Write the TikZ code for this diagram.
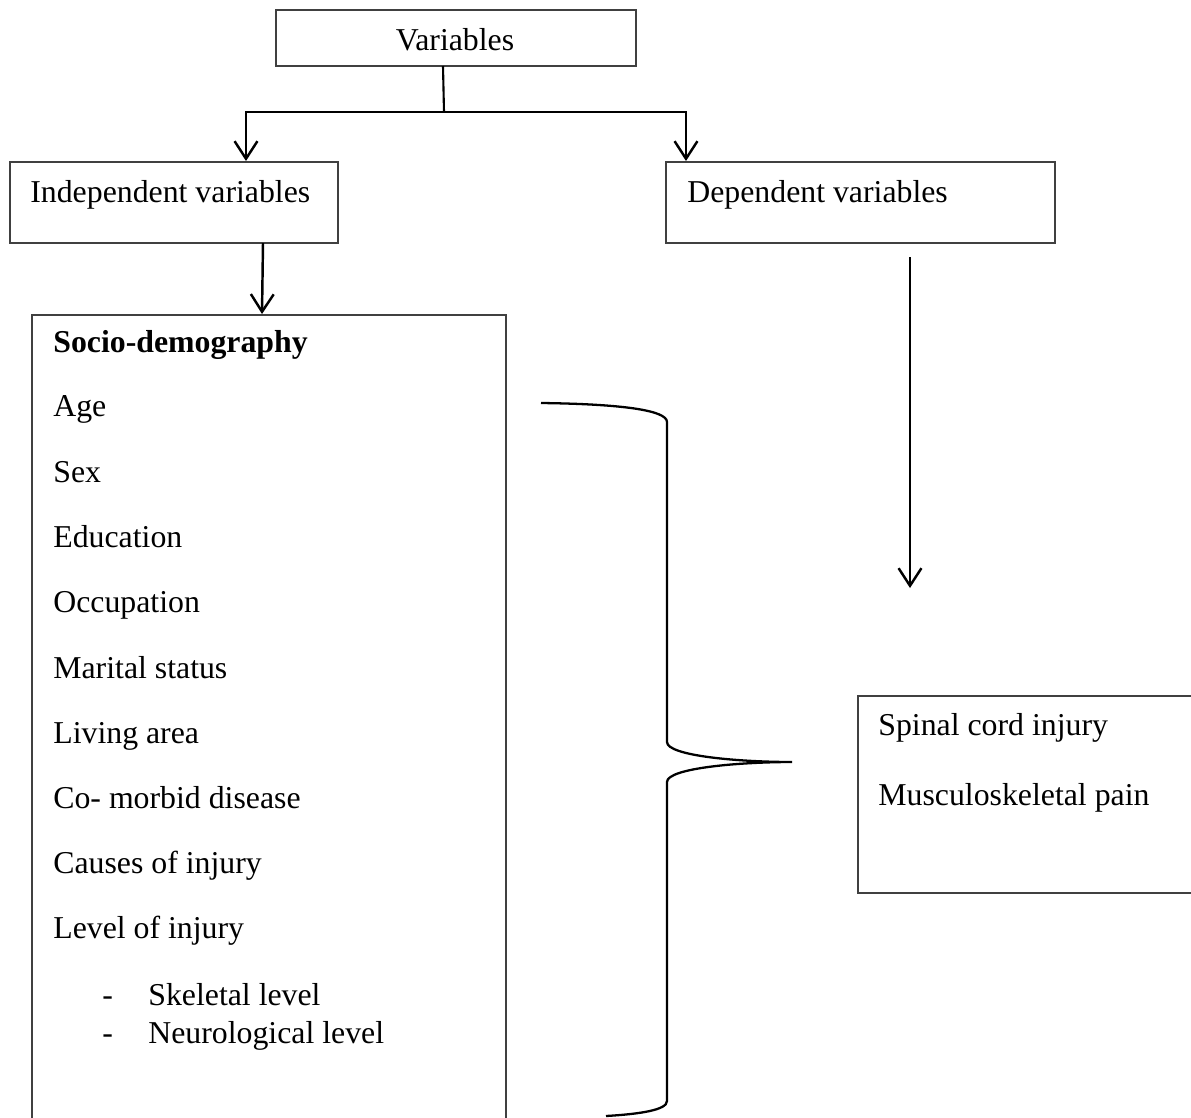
\documentclass[tikz,border=0pt]{standalone}
\usepackage{fontspec}
\setmainfont{Liberation Serif}
\usetikzlibrary{arrows.meta}
\begin{document}
\begin{tikzpicture}[x=0.02cm,y=-0.02cm,
  boxline/.style={draw=black!75,line width=1.1pt},
  conn/.style={draw=black,line width=1.4pt},
  arr/.style={conn,-{Straight Barb[length=10pt,width=13pt,line width=1.4pt]}},
  lbl/.style={inner sep=0pt,anchor=base west,font=\fontsize{18.1}{21}\selectfont},
  bracel/.style={draw=black,line width=1.3pt}]
\useasboundingbox (0,0) rectangle (1191,1117);
% boxes
\draw[boxline] (276,10) rectangle (636,66);
\coordinate (varsS) at (443,66);
\draw[boxline] (10,162) rectangle (338,243);
\draw[boxline] (666,162) rectangle (1055,243);
\draw[boxline] (32,1130) -- (32,315) -- (506,315) -- (506,1130);
\draw[boxline] (1200,696) -- (858,696) -- (858,893) -- (1200,893);
% texts
\node[lbl,anchor=base] (vars) at (455,50) {Variables};
\node[lbl] (indep) at (30,202) {Independent variables};
\node[lbl] (dep) at (687,202) {Dependent variables};
\node[lbl] (socio) at (53,352) {\bfseries Socio-demography};
\node[lbl] (age) at (53,416) {Age};
\node[lbl] (sex) at (53,482) {Sex};
\node[lbl] (edu) at (53,547) {Education};
\node[lbl] (occ) at (53,612) {Occupation};
\node[lbl] (mar) at (53,678) {Marital status};
\node[lbl] (liv) at (53,743) {Living area};
\node[lbl] (com) at (53,808) {Co- morbid disease};
\node[lbl] (cau) at (53,873) {Causes of injury};
\node[lbl] (lev) at (53,938) {Level of injury};
\node[lbl] (d1) at (102,1005) {-};
\node[lbl] (skel) at (148,1005) {Skeletal level};
\node[lbl] (d2) at (102,1043) {-};
\node[lbl] (neur) at (148,1043) {Neurological level};
\node[lbl] (sci) at (878,735) {Spinal cord injury};
\node[lbl] (msp) at (878,805) {Musculoskeletal pain};
% connectors
\coordinate (split) at (444,112);
\coordinate (indepTop) at (246,161);
\coordinate (depTop) at (686,161);
\coordinate (indepBot) at (263,243);
\coordinate (sociotop) at (262,314);
\coordinate (depArrS) at (910,257);
\coordinate (depArrE) at (910,588);
\draw[conn,line width=1.2pt] (varsS) -- (split);
\draw[arr] (split) -- (246,112) -- (indepTop);
\draw[arr] (split) -- (686,112) -- (depTop);
\draw[arr] (indepBot) -- (sociotop);
\draw[arr] (depArrS) -- (depArrE);
% brace
\coordinate (bs) at (541,403);
\coordinate (tip) at (792,762);
\coordinate (be) at (606,1116);
\draw[bracel] (bs) .. controls (620,404) and (667,410) .. (667,422)
  -- (667,742) .. controls (667,756) and (740,762) .. (tip)
  .. controls (740,762) and (667,768) .. (667,782)
  -- (667,1101) .. controls (667,1110) and (640,1114) .. (be);
\end{tikzpicture}
\end{document}
